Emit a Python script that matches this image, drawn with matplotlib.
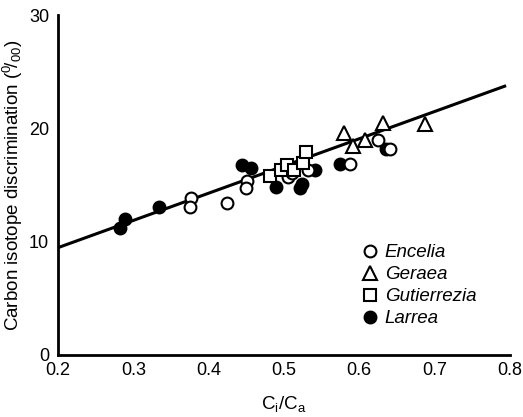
import matplotlib
matplotlib.use("Agg")
import matplotlib.pyplot as plt
import numpy as np

plt.rcParams['font.family'] = ['Liberation Sans', 'DejaVu Sans']
plt.rcParams['mathtext.fontset'] = 'custom'
plt.rcParams['mathtext.rm'] = 'Liberation Sans'
plt.rcParams['mathtext.it'] = 'Liberation Sans:italic'

# Data
encelia_x = [0.377, 0.375, 0.424, 0.451, 0.450, 0.505, 0.510, 0.532, 0.588, 0.625, 0.641]
encelia_y = [13.82, 13.04, 13.40, 15.38, 14.70, 15.69, 16.01, 16.32, 16.89, 18.98, 18.19]

geraea_x = [0.580, 0.592, 0.607, 0.632, 0.687]
geraea_y = [19.55, 18.40, 18.98, 20.43, 20.38]

gutierrezia_x = [0.482, 0.496, 0.504, 0.513, 0.525, 0.529]
gutierrezia_y = [15.80, 16.32, 16.74, 16.32, 16.94, 17.88]

larrea_x = [0.282, 0.289, 0.334, 0.444, 0.456, 0.490, 0.521, 0.524, 0.541, 0.575, 0.636]
larrea_y = [11.22, 11.95, 13.09, 16.74, 16.48, 14.86, 14.70, 15.07, 16.32, 16.89, 18.19]

line_x = [0.2, 0.793]
line_intercept = 4.66
line_slope = 24.03

x_ticks = [0.2, 0.3, 0.4, 0.5, 0.6, 0.7, 0.8]
y_ticks = [0, 10, 20, 30]

fig = plt.figure(figsize=(5.23, 4.17), dpi=100)
ax = fig.add_axes([0.111, 0.149, 0.864, 0.815])

lx = np.array(line_x)
ax.plot(lx, line_intercept + line_slope * lx, color='black', lw=2.2, zorder=1)

ms = 8.5
mew = 1.5
ax.plot(larrea_x, larrea_y, 'o', ms=ms, mfc='black', mec='black', mew=mew, ls='none', label='Larrea', zorder=2)
ax.plot(encelia_x, encelia_y, 'o', ms=ms, mfc='white', mec='black', mew=mew, ls='none', label='Encelia', zorder=3)
ax.plot(gutierrezia_x, gutierrezia_y, 's', ms=ms - 0.5, mfc='white', mec='black', mew=mew, ls='none', label='Gutierrezia', zorder=3)
ax.plot(geraea_x, geraea_y, '^', ms=ms + 1, mfc='white', mec='black', mew=mew, ls='none', label='Geraea', zorder=3)

ax.set_xlim(0.2, 0.8)
ax.set_ylim(0, 30)
ax.set_xticks(x_ticks)
ax.set_xticklabels([f'{t:.1f}' for t in x_ticks])
ax.set_yticks(y_ticks)
ax.tick_params(length=0, labelsize=13)
ax.tick_params(axis='x', pad=5)
ax.tick_params(axis='y', pad=6.5)
for s in ['top', 'right']:
    ax.spines[s].set_visible(False)
for s in ['left', 'bottom']:
    ax.spines[s].set_linewidth(2)

ax.set_xlabel(r'C$_\mathrm{i}$/C$_\mathrm{a}$', fontsize=13.5, labelpad=11)
ax.set_ylabel(r'Carbon isotope discrimination ($^{0}\!/_{00}$)', fontsize=13.5, labelpad=3)

handles, labels = ax.get_legend_handles_labels()
order = ['Encelia', 'Geraea', 'Gutierrezia', 'Larrea']
hmap = dict(zip(labels, handles))
leg = ax.legend([hmap[k] for k in order], order, loc='upper left',
                bbox_to_anchor=(0.669, 0.326), frameon=False,
                handletextpad=0.3, labelspacing=0.26, handlelength=1.0,
                borderpad=0.0, borderaxespad=0.0,
                prop={'style': 'italic', 'size': 13.5})

fig.savefig('out.png', dpi=100)
